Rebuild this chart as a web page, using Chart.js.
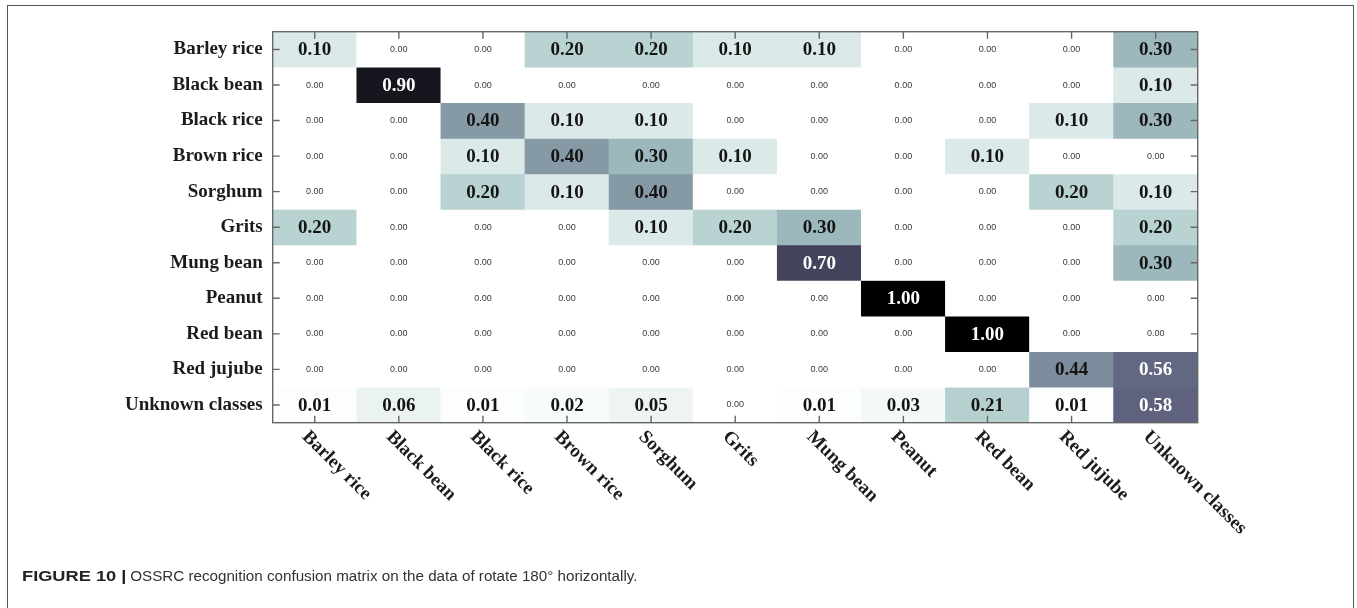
<!DOCTYPE html>
<html>
<head>
<meta charset="utf-8">
<title>OSSRC recognition confusion matrix</title>
<script src="https://cdn.jsdelivr.net/npm/chart.js@4.4.0/dist/chart.umd.min.js"></script>
<style>
  html, body { margin: 0; padding: 0; background: #ffffff; overflow: hidden; }
  #wrap { position: relative; width: 1357px; height: 608px; }
  #frame {
    position: absolute; left: 7px; top: 5px; width: 1347px; height: 700px;
    border: 1.5px solid #555; box-sizing: border-box;
  }
  #box { position: absolute; left: 0; top: 0; width: 1357px; height: 608px; }
  #caption {
    position: absolute; left: 22px; top: 567px;
    font-family: 'Liberation Sans', Arial, sans-serif; font-size: 15.2px;
    color: #333; white-space: nowrap;
  }
  #caption b {
    display: inline-block; font-weight: bold; color: #222;
    transform: scaleX(1.2); transform-origin: left center; margin-right: 17px;
  }
</style>
</head>
<body>
<div id="wrap">
  <div id="frame"></div>
  <div id="box"><canvas id="cm"></canvas></div>
  <div id="caption"><b>FIGURE 10 |</b> OSSRC recognition confusion matrix on the data of rotate 180° horizontally.</div>
</div>
<script>
// Class names (rows = true class, columns = predicted class)
const classNames = ['Barley rice', 'Black bean', 'Black rice', 'Brown rice', 'Sorghum', 'Grits',
                    'Mung bean', 'Peanut', 'Red bean', 'Red jujube', 'Unknown classes'];

// One row of recognition rates per true class
const barleyRice     = [0.10, 0.00, 0.00, 0.20, 0.20, 0.10, 0.10, 0.00, 0.00, 0.00, 0.30];
const blackBean      = [0.00, 0.90, 0.00, 0.00, 0.00, 0.00, 0.00, 0.00, 0.00, 0.00, 0.10];
const blackRice      = [0.00, 0.00, 0.40, 0.10, 0.10, 0.00, 0.00, 0.00, 0.00, 0.10, 0.30];
const brownRice      = [0.00, 0.00, 0.10, 0.40, 0.30, 0.10, 0.00, 0.00, 0.10, 0.00, 0.00];
const sorghum        = [0.00, 0.00, 0.20, 0.10, 0.40, 0.00, 0.00, 0.00, 0.00, 0.20, 0.10];
const grits          = [0.20, 0.00, 0.00, 0.00, 0.10, 0.20, 0.30, 0.00, 0.00, 0.00, 0.20];
const mungBean       = [0.00, 0.00, 0.00, 0.00, 0.00, 0.00, 0.70, 0.00, 0.00, 0.00, 0.30];
const peanut         = [0.00, 0.00, 0.00, 0.00, 0.00, 0.00, 0.00, 1.00, 0.00, 0.00, 0.00];
const redBean        = [0.00, 0.00, 0.00, 0.00, 0.00, 0.00, 0.00, 0.00, 1.00, 0.00, 0.00];
const redJujube      = [0.00, 0.00, 0.00, 0.00, 0.00, 0.00, 0.00, 0.00, 0.00, 0.44, 0.56];
const unknownClasses = [0.01, 0.06, 0.01, 0.02, 0.05, 0.00, 0.01, 0.03, 0.21, 0.01, 0.58];

const rowValues = [barleyRice, blackBean, blackRice, brownRice, sorghum, grits,
                   mungBean, peanut, redBean, redJujube, unknownClasses];

// Reversed "bone" colour ramp: 0 -> white, 1 -> black
function lerpStops(stops, t) {
  for (let i = 1; i < stops.length; i++) {
    if (t <= stops[i][0]) {
      const [x0, y0] = stops[i - 1], [x1, y1] = stops[i];
      return y0 + (y1 - y0) * (t - x0) / (x1 - x0);
    }
  }
  return stops[stops.length - 1][1];
}
function boneR(v) {
  const t = 1 - Math.max(0, Math.min(1, v));
  const r = lerpStops([[0, 0], [0.746032, 0.652778], [1, 1]], t);
  const g = lerpStops([[0, 0], [0.365079, 0.319444], [0.746032, 0.777778], [1, 1]], t);
  const b = lerpStops([[0, 0], [0.365079, 0.444444], [1, 1]], t);
  return `rgb(${Math.round(r * 255)},${Math.round(g * 255)},${Math.round(b * 255)})`;
}

// Layout of the plotting area
const AREA_LEFT = 272.7, AREA_RIGHT = 1197.7, AREA_TOP = 31.7, AREA_BOTTOM = 422.7;
const W = 1357, H = 608;
const AXIS_COLOR = '#676767';
const SERIF_BOLD = 'bold 19px "Liberation Serif", "Times New Roman", serif';

const cellPlugin = {
  id: 'cellText',
  afterDatasetsDraw(chart) {
    const ctx = chart.ctx;
    ctx.save();
    ctx.textAlign = 'center';
    ctx.textBaseline = 'middle';
    rowValues.forEach((row, r) => {
      const meta = chart.getDatasetMeta(r);
      row.forEach((v, c) => {
        const el = meta.data[c];
        const cx = el.x, cy = (el.y + el.base) / 2;
        if (v === 0) {
          ctx.font = '9px "Liberation Sans", Arial, sans-serif';
          ctx.fillStyle = '#3a3a3a';
          ctx.fillText(v.toFixed(2), cx, cy);
        } else {
          ctx.font = SERIF_BOLD;
          ctx.fillStyle = v > 0.5 ? '#ffffff' : '#141414';
          ctx.fillText(v.toFixed(2), cx, cy + 1);
        }
      });
    });
    ctx.restore();
  },
  afterDraw(chart) {
    const ctx = chart.ctx;
    const a = chart.chartArea;
    const xs = chart.scales.x, ys = chart.scales.y;
    const tick = 7;
    ctx.save();
    ctx.strokeStyle = AXIS_COLOR;
    ctx.lineWidth = 1.4;
    ctx.strokeRect(a.left, a.top, a.right - a.left, a.bottom - a.top);
    ctx.beginPath();
    xs.ticks.forEach((t, i) => {
      const x = xs.getPixelForTick(i);
      ctx.moveTo(x, a.top); ctx.lineTo(x, a.top + tick);
      ctx.moveTo(x, a.bottom); ctx.lineTo(x, a.bottom - tick);
    });
    ys.ticks.forEach((t) => {
      const y = ys.getPixelForValue(t.value);
      ctx.moveTo(a.left, y); ctx.lineTo(a.left + tick, y);
      ctx.moveTo(a.right, y); ctx.lineTo(a.right - tick, y);
    });
    ctx.stroke();

    // Predicted-class labels, slanted 45 degrees downward
    ctx.font = SERIF_BOLD;
    ctx.fillStyle = '#1c1c1c';
    ctx.textAlign = 'left';
    ctx.textBaseline = 'top';
    xs.getLabels().forEach((lab, i) => {
      const x = xs.getPixelForTick(i);
      ctx.save();
      ctx.translate(x - 3, a.bottom + 4.5);
      ctx.rotate(Math.PI / 4);
      ctx.fillText(lab, 0, 0);
      ctx.restore();
    });
    ctx.restore();
  }
};

new Chart(document.getElementById('cm'), {
  type: 'bar',
  data: {
    labels: classNames,
    datasets: rowValues.map((row, r) => ({
      label: classNames[r],
      data: row.map(() => [r, r + 1]),
      backgroundColor: row.map(boneR),
      borderWidth: 0,
      grouped: false,
      barPercentage: 1,
      categoryPercentage: 1
    }))
  },
  options: {
    responsive: true,
    maintainAspectRatio: false,
    animation: false,
    events: [],
    layout: { padding: { left: 0, top: AREA_TOP, right: W - AREA_RIGHT, bottom: 0 } },
    plugins: { legend: { display: false }, tooltip: { enabled: false }, title: { display: false } },
    scales: {
      x: {
        type: 'category',
        offset: true,
        grid: { display: false, drawTicks: false },
        border: { display: false },
        ticks: { display: false },
        afterFit: (s) => { s.height = H - AREA_BOTTOM; }
      },
      y: {
        type: 'linear',
        reverse: true,
        min: 0,
        max: classNames.length,
        grid: { display: false, drawTicks: false },
        border: { display: false },
        afterBuildTicks: (s) => { s.ticks = classNames.map((_, i) => ({ value: i + 0.5 })); },
        ticks: {
          autoSkip: false,
          padding: 10,
          color: '#1c1c1c',
          font: { family: '"Liberation Serif", "Times New Roman", serif', weight: 'bold', size: 19 },
          callback: (v, i) => classNames[i]
        },
        afterFit: (s) => { s.width = AREA_LEFT; }
      }
    }
  },
  plugins: [cellPlugin]
});
</script>
</body>
</html>
